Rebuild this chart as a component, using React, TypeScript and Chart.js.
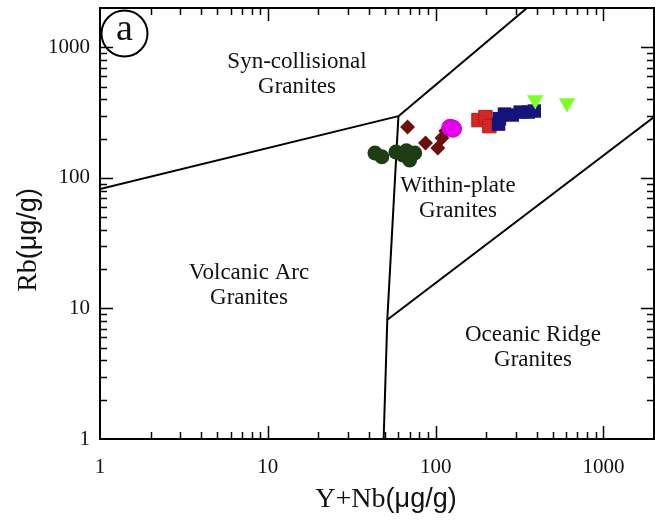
import React, { useEffect, useRef } from 'react';
import { Chart, registerables } from 'chart.js';

Chart.register(...registerables);

// Tick labels
const xTickValues = [1, 10, 100, 1000];
const yTickValues = [1, 10, 100, 1000];

// Discrimination boundaries
const lineSynVag = [{ x: 1, y: 82 }, { x: 60, y: 297 }];
const lineUpper = [{ x: 60, y: 297 }, { x: 350, y: 2000 }];
const lineVagWpg = [{ x: 60, y: 297 }, { x: 51.5, y: 8.2 }, { x: 49, y: 1 }];
const lineWpgOrg = [{ x: 51.5, y: 8.2 }, { x: 2000, y: 292 }];

// Samples
const greenCircles = [
  { x: 43.5, y: 155 }, { x: 47.8, y: 145 }, { x: 58, y: 158 },
  { x: 63.7, y: 150 }, { x: 70, y: 137 }, { x: 75, y: 155 }, { x: 67, y: 161 },
];
const redDiamonds = [
  { x: 68, y: 245 }, { x: 87, y: 185 }, { x: 103, y: 169 },
  { x: 109, y: 202 }, { x: 115, y: 229 },
];
const magentaCircles = [{ x: 122, y: 242 }, { x: 127, y: 238 }];
const redSquares = [{ x: 180, y: 277 }, { x: 198, y: 292 }, { x: 209, y: 249 }];
const navySquares = [
  { x: 237, y: 258 }, { x: 240, y: 284 }, { x: 257, y: 308 }, { x: 286, y: 303 },
  { x: 319, y: 319 }, { x: 356, y: 319 }, { x: 387, y: 325 },
];
const greenTriangles = [{ x: 392, y: 394 }, { x: 607, y: 374 }];

const regionLabels = [
  { lines: ['Syn-collisional', 'Granites'], cx: 297, cy: 62 },
  { lines: ['Within-plate', 'Granites'], cx: 458, cy: 186 },
  { lines: ['Volcanic Arc', 'Granites'], cx: 249, cy: 273 },
  { lines: ['Oceanic Ridge', 'Granites'], cx: 533, cy: 335 },
];

const SERIF = '"Liberation Serif", "DejaVu Serif", serif';
const SANS = '"Liberation Sans", Arial, sans-serif';

const framePlugin = {
  id: 'frame',
  beforeDatasetsDraw(chart: any) {
    const { ctx, chartArea, scales } = chart;
    const { left, right, top, bottom } = chartArea;
    const xs = scales.x;
    const ys = scales.y;
    ctx.save();
    ctx.strokeStyle = '#000';
    ctx.lineWidth = 2;
    ctx.strokeRect(left, top, right - left, bottom - top);
    ctx.lineWidth = 1.5;
    ctx.beginPath();
    for (const d of [1, 10, 100, 1000]) {
      for (let m = 1; m <= 9; m++) {
        const v = d * m;
        if (v <= 2000) {
          const len = m === 1 ? 13 : 7;
          const px = Math.round(xs.getPixelForValue(v)) + 0.5;
          if (px > left + 1 && px < right - 1) {
            ctx.moveTo(px, bottom); ctx.lineTo(px, bottom - len);
            ctx.moveTo(px, top); ctx.lineTo(px, top + len);
          }
          const py = Math.round(ys.getPixelForValue(v)) + 0.5;
          if (py > top + 1 && py < bottom - 1) {
            ctx.moveTo(left, py); ctx.lineTo(left + len, py);
            ctx.moveTo(right, py); ctx.lineTo(right - len, py);
          }
        }
      }
    }
    ctx.stroke();

    // region labels
    ctx.fillStyle = '#111';
    ctx.font = `23px ${SERIF}`;
    ctx.textAlign = 'center';
    ctx.textBaseline = 'middle';
    for (const r of regionLabels) {
      r.lines.forEach((t, i) => ctx.fillText(t, r.cx, r.cy + i * 25));
    }

    // panel label
    ctx.lineWidth = 2;
    ctx.beginPath();
    ctx.arc(124.5, 33.5, 23, 0, Math.PI * 2);
    ctx.stroke();
    ctx.font = `38px ${SERIF}`;
    ctx.fillText('a', 124.5, 30);

    // axis titles (mixed fonts)
    const drawTitle = (a: string, b: string) => {
      ctx.font = `28px ${SERIF}`;
      const wa = ctx.measureText(a).width;
      ctx.font = `27px ${SANS}`;
      const wb = ctx.measureText(b).width;
      const start = -(wa + wb) / 2;
      ctx.textAlign = 'left';
      ctx.textBaseline = 'alphabetic';
      ctx.font = `28px ${SERIF}`;
      ctx.fillText(a, start, 0);
      ctx.font = `27px ${SANS}`;
      ctx.fillText(b, start + wa, 0);
    };
    ctx.save();
    ctx.translate(386, 507);
    drawTitle('Y+Nb', '(μg/g)');
    ctx.restore();
    ctx.save();
    ctx.translate(36, 240);
    ctx.rotate(-Math.PI / 2);
    drawTitle('Rb', '(μg/g)');
    ctx.restore();
    ctx.restore();
  },
};

const noPad = (s: any) => {
  s.paddingTop = 0;
  s.paddingBottom = 0;
  s.paddingLeft = 0;
  s.paddingRight = 0;
};

export default function App() {
  const ref = useRef<HTMLCanvasElement>(null);
  useEffect(() => {
    document.body.style.margin = '0';
    if (!ref.current) return;
    const lineDs = (data: any[]) => ({
      data,
      showLine: true,
      borderColor: '#000',
      borderWidth: 2,
      pointRadius: 0,
      fill: false,
    });
    const chart = new Chart(ref.current, {
      type: 'scatter',
      data: {
        datasets: [
          { data: greenTriangles, pointStyle: 'triangle', rotation: 180, pointRadius: 9.5, backgroundColor: '#7fff2a', borderColor: '#7fff2a', borderWidth: 0 },
          { data: magentaCircles, pointStyle: 'circle', pointRadius: 8.5, backgroundColor: '#e600ee', borderColor: '#c000c8', borderWidth: 1 },
          { data: navySquares, pointStyle: 'rect', pointRadius: 9.5, backgroundColor: '#14147a', borderColor: '#14147a', borderWidth: 0 },
          { data: redSquares, pointStyle: 'rect', pointRadius: 9.5, backgroundColor: '#d42626', borderColor: '#b81a1a', borderWidth: 1 },
          { data: redDiamonds, pointStyle: 'rectRot', pointRadius: 7.5, backgroundColor: '#6b1010', borderColor: '#6b1010', borderWidth: 0 },
          { data: greenCircles, pointStyle: 'circle', pointRadius: 7.5, backgroundColor: '#1e3d12', borderColor: '#1e3d12', borderWidth: 0 },
          lineDs(lineSynVag),
          lineDs(lineUpper),
          lineDs(lineVagWpg),
          lineDs(lineWpgOrg),
        ] as any,
      },
      options: {
        animation: false,
        responsive: false,
        layout: { autoPadding: false, padding: { top: 8, right: 1, left: 0, bottom: 0 } },
        plugins: { legend: { display: false }, tooltip: { enabled: false } },
        scales: {
          x: {
            type: 'logarithmic',
            min: 1,
            max: 2000,
            grid: { display: false, drawTicks: false },
            border: { display: false },
            afterBuildTicks: (s: any) => { s.ticks = xTickValues.map((v) => ({ value: v })); },
            afterFit: (s: any) => { s.height = 84; noPad(s); },
            ticks: {
              autoSkip: false,
              maxRotation: 0,
              padding: 16,
              color: '#111',
              font: { family: SERIF, size: 21 },
              callback: (v: any) => String(v),
            },
          },
          y: {
            type: 'logarithmic',
            min: 1,
            max: 2000,
            grid: { display: false, drawTicks: false },
            border: { display: false },
            afterBuildTicks: (s: any) => { s.ticks = yTickValues.map((v) => ({ value: v })); },
            afterFit: (s: any) => { s.width = 100; noPad(s); },
            ticks: {
              autoSkip: false,
              padding: 10,
              color: '#111',
              font: { family: SERIF, size: 21 },
              callback: (v: any) => String(v),
            },
          },
        },
      },
      plugins: [framePlugin],
    } as any);
    return () => chart.destroy();
  }, []);
  return <canvas ref={ref} width={655} height={523} />;
}
